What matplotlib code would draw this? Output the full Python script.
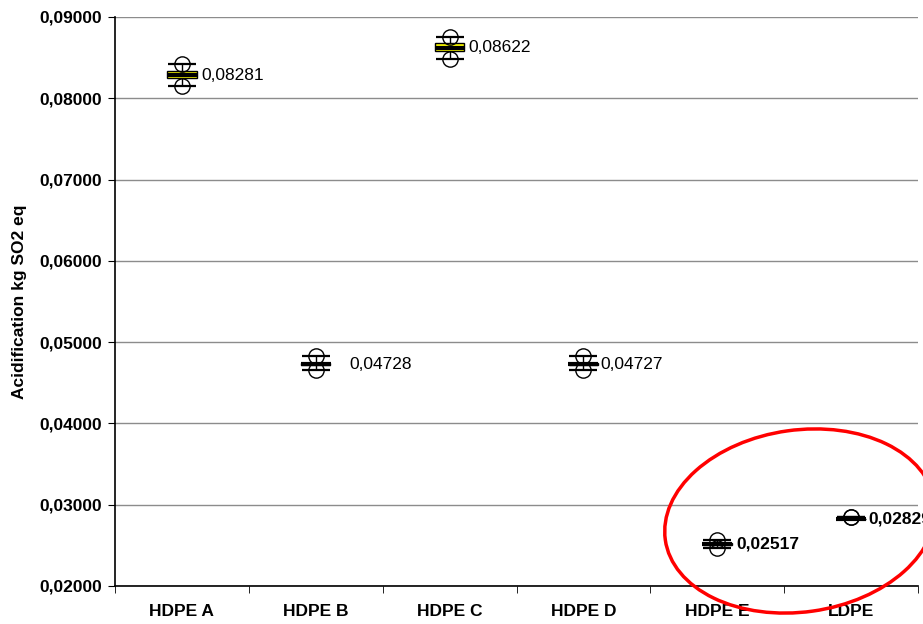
import matplotlib.pyplot as plt
from matplotlib.patches import Ellipse
from matplotlib.ticker import FuncFormatter

plt.rcParams['font.family'] = ['Liberation Sans', 'DejaVu Sans']

# dados
categorias = ['HDPE A', 'HDPE B', 'HDPE C', 'HDPE D', 'HDPE E', 'LDPE']
valores = [0.08281, 0.04728, 0.08622, 0.04727, 0.02517, 0.02829]
rotulos = ['0,08281', '0,04728', '0,08622', '0,04727', '0,02517', '0,02829']
maximos = [0.08422, 0.04830, 0.08754, 0.04830, 0.02566, 0.02845]
minimos = [0.08151, 0.04658, 0.08483, 0.04658, 0.02468, 0.02845]
caixa_topo = [0.08335, 0.04742, 0.08675, 0.04742, 0.02525, 0.02829]
caixa_base = [0.08245, 0.04714, 0.08585, 0.04714, 0.02510, 0.02829]
negrito = [False, False, False, False, True, True]
desloc_px = [19, 34, 19, 17, 19, 17]

fig = plt.figure(figsize=(9.23, 6.24), dpi=100)
ax = fig.add_axes([115 / 923, 38 / 624, 803 / 923, 569 / 624])

x = list(range(len(categorias)))

# linha vertical entre minimo e maximo
ax.vlines(x, minimos, maximos, color='black', lw=1, zorder=3)
# caixa amarela
alturas = [t - b for t, b in zip(caixa_topo, caixa_base)]
ax.bar(x, alturas, bottom=caixa_base, width=0.22, color='#ffff00',
       edgecolor='black', linewidth=1, zorder=4)
# valor (traco grosso)
ax.plot(x, valores, ls='none', marker='_', ms=21, mew=3, color='black', zorder=5)
# maximos e minimos
for serie in (maximos, minimos):
    ax.plot(x, serie, ls='none', marker='o', ms=11, mfc='none', mec='black',
            mew=1, zorder=6)
    ax.plot(x, serie, ls='none', marker='_', ms=20, mew=1.6, color='black', zorder=6)

for i in x:
    ax.annotate(rotulos[i], (i, valores[i]), xytext=(desloc_px[i] * 0.72, 0),
                textcoords='offset points', va='center', ha='left',
                fontsize=12.5, fontweight='bold' if negrito[i] else 'normal',
                annotation_clip=False)

ax.set_xlim(-0.5, len(categorias) - 0.5)
ax.set_ylim(0.02, 0.09)
ax.set_yticks([0.02, 0.03, 0.04, 0.05, 0.06, 0.07, 0.08, 0.09])
ax.yaxis.set_major_formatter(FuncFormatter(lambda v, p: f'{v:.5f}'.replace('.', ',')))
ax.set_xticks(x)
ax.set_xticklabels(categorias, fontweight='bold', fontsize=12.5)
ax.set_xticks([i - 0.5 for i in range(len(categorias) + 1)], minor=True)
ax.tick_params(axis='x', which='major', length=0, pad=13)
ax.tick_params(axis='x', which='minor', length=5, direction='out')
ax.tick_params(axis='y', length=5, direction='out', labelsize=12.5, pad=4)
for lbl in ax.get_yticklabels():
    lbl.set_fontweight('bold')

ax.grid(axis='y', color='#8c8c8c', lw=1)
ax.set_axisbelow(True)
for lado in ('top', 'right'):
    ax.spines[lado].set_visible(False)
ax.spines['left'].set_linewidth(1.2)
ax.spines['bottom'].set_linewidth(1.2)

ax.set_ylabel('Acidification kg SO2 eq', fontweight='bold', fontsize=12.5, labelpad=9)

# elipse vermelha
elipse = Ellipse((8.00, 6.24 - 5.21), 2.72, 1.82, angle=8, fill=False,
                 edgecolor='red', lw=2.5, transform=fig.dpi_scale_trans, zorder=10)
fig.patches.append(elipse)

fig.savefig('out.png', dpi=100)
